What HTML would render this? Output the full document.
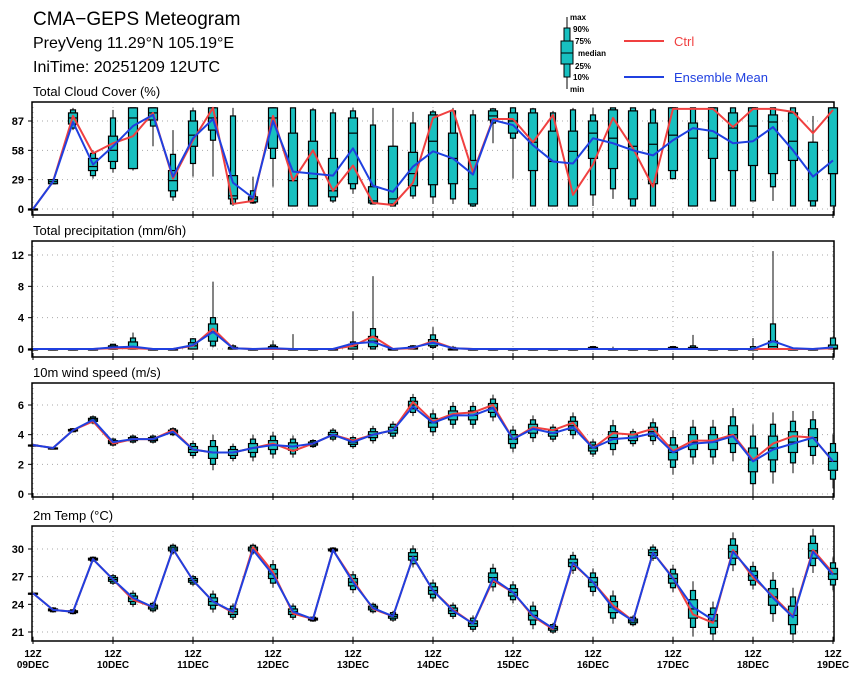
<!DOCTYPE html>
<html><head><meta charset="utf-8">
<style>
html,body{margin:0;padding:0;background:#fff;}
svg{display:block;font-family:"Liberation Sans",sans-serif;}
</style></head>
<body>
<svg id="chart" width="860" height="680" viewBox="0 0 860 680" xmlns="http://www.w3.org/2000/svg">
<text x="33" y="25" font-size="19">CMA−GEPS Meteogram</text>
<text x="33" y="48" font-size="16">PreyVeng 11.29°N 105.19°E</text>
<text x="33" y="72" font-size="16">IniTime: 20251209 12UTC</text>
<g>
<line x1="567" y1="17" x2="567" y2="89" stroke="#000" stroke-width="1"/>
<rect x="564" y="28" width="6" height="49" fill="#18c0c0" stroke="#000"/>
<rect x="561" y="41" width="12" height="23" fill="#18c0c0" stroke="#000"/>
<line x1="561" y1="53" x2="573" y2="53" stroke="#000"/>
<g font-size="8" font-weight="bold">
<text x="570" y="20">max</text>
<text x="573" y="32">90%</text>
<text x="575" y="44">75%</text>
<text x="578" y="56">median</text>
<text x="575" y="69">25%</text>
<text x="573" y="80">10%</text>
<text x="570" y="92">min</text>
</g>
<line x1="624" y1="41" x2="664" y2="41" stroke="#f04040" stroke-width="2"/>
<text x="674" y="46" font-size="13" fill="#f04040">Ctrl</text>
<line x1="624" y1="77" x2="664" y2="77" stroke="#2040e0" stroke-width="2"/>
<text x="674" y="82" font-size="13" fill="#2040e0">Ensemble Mean</text>
</g>
</svg>
<script>
// ---- data ----
const dayLabels = ["09DEC","10DEC","11DEC","12DEC","13DEC","14DEC","15DEC","16DEC","17DEC","18DEC","19DEC"];
const cloudTicks = [0,29,58,87];
const precipTicks = [0,4,8,12];
const windTicks = [0,2,4,6];
const tempTicks = [21,24,27,30];

const cloudMin = [0,25,78,30,36,38,62,8,32,32,3,5,22,3,3,6,15,5,3,10,5,5,2,65,30,3,3,3,3,10,3,3,30,3,8,3,8,8,3,3,3];
const cloudP10 = [0,25,80,33,40,40,82,12,45,68,5,6,50,3,3,8,20,5,3,13,12,10,3,85,70,3,3,3,14,20,3,3,30,3,8,3,8,22,3,3,3];
const cloudP25 = [0,25,84,38,47,40,88,18,62,78,10,7,60,3,3,12,25,6,5,23,24,25,5,88,75,38,3,3,50,40,10,25,38,3,50,38,43,35,48,8,35];
const cloudMed = [0,27,90,42,58,90,95,28,73,90,13,10,90,28,30,18,75,8,10,35,67,50,20,92,87,66,47,57,75,70,62,64,73,70,70,80,82,86,67,8,35];
const cloudP75 = [0,29,95,50,72,100,100,38,87,100,33,12,100,75,67,50,90,22,62,56,93,75,48,97,95,95,77,77,87,98,97,85,100,85,100,95,100,93,95,66,100];
const cloudP90 = [0,29,98,55,90,100,100,54,97,100,92,18,100,100,98,95,97,83,62,85,96,97,93,99,100,99,95,98,93,100,100,98,100,100,100,100,100,100,100,66,100];
const cloudMax = [0,30,100,58,98,100,100,78,100,100,100,32,100,100,100,99,100,100,100,96,98,100,98,100,100,100,97,100,100,100,100,100,100,100,100,100,100,100,100,92,100];
const cloudCtrl = [0,27,92,55,65,72,95,30,68,100,5,8,92,28,58,18,43,6,4,26,90,98,36,89,89,66,93,14,44,90,60,22,99,99,99,81,99,99,96,75,98];
const cloudMean = [0,27,86,44,62,82,93,32,70,89,26,11,87,37,35,33,60,23,17,42,57,50,34,88,83,63,47,45,70,65,58,53,68,80,77,65,67,81,58,32,48];

const precipMin = [0,0,0,0,0,0,0,0,0,0.2,0,0,0,0,0,0,0,0,0,0,0,0,0,0,0,0,0,0,0,0,0,0,0,0,0,0,0,0,0,0,0];
const precipP10 = [0,0,0,0,0,0,0,0,0,0.4,0,0,0,0,0,0,0,0,0,0,0.2,0,0,0,0,0,0,0,0,0,0,0,0,0,0,0,0,0,0,0,0];
const precipP25 = [0,0,0,0,0,0,0,0,0,1.0,0,0,0,0,0,0,0,0.3,0,0,0.4,0,0,0,0,0,0,0,0,0,0,0,0,0,0,0,0,0,0,0,0];
const precipMed = [0,0,0,0,0,0.3,0,0,0.4,2.2,0,0,0,0,0,0,0.3,1.0,0,0.1,0.8,0,0,0,0,0,0,0,0,0,0,0,0,0,0,0,0,0.3,0,0,0.1];
const precipP75 = [0,0,0,0,0.4,0.9,0,0,0.8,3.2,0.2,0,0.3,0,0,0,0.6,1.6,0,0.3,1.2,0,0,0,0,0,0,0,0.2,0,0,0,0.2,0.2,0,0,0,1.0,0,0,0.5];
const precipP90 = [0,0,0,0,0.6,1.4,0,0,1.3,4.0,0.4,0,0.5,0,0,0,0.9,2.6,0,0.4,1.8,0.2,0,0,0,0,0,0,0.3,0,0,0,0.3,0.4,0,0,0.3,3.2,0,0,1.4];
const precipMax = [0,0,0,0,0.6,2.1,0,0,1.4,8.6,0.6,0,1.1,1.9,0,0,4.8,9.3,0,0.5,2.8,0.4,0,0,0,0,0,0,0.4,0.3,0,0,0.4,1.8,0,0,1.4,12.5,0.2,0,1.5];
const precipCtrl = [0,0,0,0,0.1,0.1,0,0,0.4,2.6,0.1,0,0,0,0,0,0.4,1.6,0,0.1,1.0,0.1,0,0,0,0,0,0,0,0,0,0,0,0,0,0,0,0,0,0,0.1];
const precipMean = [0,0,0,0,0.2,0.3,0,0,0.5,2.2,0.1,0,0.1,0,0,0,0.7,0.9,0,0.2,0.8,0.1,0,0,0,0,0,0,0,0,0,0,0,0,0,0,0,1.0,0.1,0,0.2];

const windMed = [3.3,3.1,4.3,5.0,3.5,3.7,3.7,4.2,3.0,2.8,2.8,3.1,3.3,3.2,3.4,4.0,3.5,4.0,4.3,6.0,4.8,5.3,5.3,5.8,3.7,4.4,4.1,4.6,3.1,3.8,3.8,4.2,2.8,3.5,3.5,4.0,2.3,3.1,3.5,3.8,2.2];
const windSpread = [0,0,0.05,0.1,0.1,0.1,0.1,0.1,0.2,0.4,0.2,0.3,0.3,0.25,0.1,0.15,0.15,0.2,0.2,0.25,0.3,0.3,0.3,0.3,0.3,0.3,0.2,0.3,0.2,0.4,0.2,0.3,0.5,0.5,0.5,0.6,0.8,0.8,0.7,0.6,0.6];
const windCtrl = [3.3,3.1,4.3,4.9,3.4,3.7,3.7,4.3,3.0,2.8,2.8,3.1,3.4,2.9,3.4,4.0,3.6,4.0,4.3,6.2,4.9,5.4,5.5,6.0,3.7,4.5,4.3,4.8,3.1,4.1,4.0,4.4,2.9,3.6,3.6,4.0,2.3,3.4,3.9,3.8,2.2];
const windMean = [3.3,3.1,4.3,5.0,3.5,3.7,3.7,4.2,3.0,2.8,2.8,3.1,3.3,3.2,3.4,4.0,3.5,4.0,4.3,5.9,4.8,5.3,5.3,5.8,3.7,4.4,4.1,4.5,3.1,3.7,3.8,4.1,2.8,3.4,3.5,3.9,2.2,3.0,3.4,3.8,2.2];

const tempMed = [25.2,23.4,23.2,28.9,26.7,24.6,23.7,30.0,26.6,24.3,23.2,30.0,27.3,23.2,22.4,29.9,26.4,23.6,22.7,29.2,25.5,23.3,21.9,26.9,25.3,22.8,21.4,28.5,26.4,23.7,22.2,29.6,26.8,23.5,22.2,29.7,27.1,24.8,22.8,29.8,27.3];
const tempSpread = [0,0.1,0.1,0.1,0.2,0.3,0.2,0.2,0.2,0.4,0.3,0.2,0.5,0.3,0.1,0.1,0.4,0.2,0.2,0.4,0.4,0.3,0.3,0.5,0.4,0.5,0.2,0.4,0.5,0.6,0.2,0.3,0.5,1.0,0.7,0.7,0.5,0.9,1.0,0.8,0.6];
const tempCtrl = [25.2,23.4,23.2,28.9,26.7,24.5,23.7,30.0,26.6,24.3,23.1,30.2,27.5,23.0,22.4,29.9,26.6,23.5,22.7,29.1,25.5,23.4,21.9,26.6,25.3,22.7,21.3,28.4,26.4,23.9,22.2,29.6,26.9,22.9,22.0,29.9,26.9,24.9,22.7,29.9,27.4];
const tempMean = [25.2,23.4,23.2,28.9,26.7,24.7,23.7,30.0,26.6,24.3,23.2,29.9,27.2,23.2,22.4,29.9,26.4,23.6,22.7,29.1,25.5,23.3,21.9,26.8,25.3,22.8,21.4,28.5,26.4,23.6,22.2,29.6,26.8,23.7,22.3,29.7,27.2,24.7,22.6,29.7,27.2];

// ---- drawing ----
const NS = "http://www.w3.org/2000/svg";
const svg = document.getElementById("chart");
const X0 = 32, X1 = 834;
function xOf(i){ return 33 + 20 * i; }
function mk(tag, attrs, parent){
  const e = document.createElementNS(NS, tag);
  for (const k in attrs) e.setAttribute(k, attrs[k]);
  (parent || svg).appendChild(e);
  return e;
}
function panel(name, title, top, bottom, vA, yA, vB, yB, ticks){
  const yOf = v => yA + (v - vA) * (yB - yA) / (vB - vA);
  const g = mk("g", {});
  
  
  const t = mk("text", {x: 33, y: top - 6, "font-size": 13}, g);
  t.textContent = title;
  
  
  for (const v of ticks){
    const y = yOf(v);
    const gl = mk("line", {x1: X0, x2: X1, y1: y, y2: y, stroke: "#aaa", "stroke-dasharray": "1,4"}, g);
    
    
    mk("line", {x1: X0 - 4, x2: X0, y1: y, y2: y, stroke: "#000"}, g);
    const tl = mk("text", {x: X0 - 8, y: y + 4, "font-size": 11, "font-weight": "bold", "text-anchor": "end"}, g);
    tl.textContent = v;
    
    
  }
  for (let d = 0; d < dayLabels.length; d++){
    const x = xOf(d * 4);
    const vl = mk("line", {x1: x, x2: x, y1: top, y2: bottom, stroke: "#aaa", "stroke-dasharray": "1,4"}, g);
    
    
    mk("line", {x1: x, x2: x, y1: bottom - 4, y2: bottom + 3, stroke: "#000"}, g);
  }
  const fr = mk("rect", {x: X0, y: top, width: X1 - X0, height: bottom - top, fill: "none", stroke: "#000", "stroke-width": 1.5}, g);
  
  
  return {g, yOf};
}
function boxes(p, name, mn, p10, p25, med, p75, p90, mx){
  for (let i = 0; i < med.length; i++){
    const x = xOf(i);
    const b = mk("g", {}, p.g);
    
    
    mk("line", {x1: x, x2: x, y1: p.yOf(mn[i]), y2: p.yOf(mx[i]), stroke: "#333", "stroke-width": 1.2}, b);
    const a = p.yOf(p90[i]), c = p.yOf(p10[i]);
    mk("rect", {x: x - 2.5, y: a, width: 5, height: Math.max(c - a, 1), fill: "#18c0c0", stroke: "#000", "stroke-width": 1.2}, b);
    const a2 = p.yOf(p75[i]), c2 = p.yOf(p25[i]);
    mk("rect", {x: x - 4.5, y: a2, width: 9, height: Math.max(c2 - a2, 1), fill: "#18c0c0", stroke: "#000", "stroke-width": 1.2}, b);
    const ym = p.yOf(med[i]);
    mk("line", {x1: x - 4.5, x2: x + 4.5, y1: ym, y2: ym, stroke: "#000", "stroke-width": 1.2}, b);
  }
}
function spreadBoxes(p, name, med, s){
  const mn = med.map((m, i) => m - 3 * s[i]), mx = med.map((m, i) => m + 3 * s[i]);
  const q10 = med.map((m, i) => m - 2 * s[i]), q90 = med.map((m, i) => m + 2 * s[i]);
  const q25 = med.map((m, i) => m - s[i]), q75 = med.map((m, i) => m + s[i]);
  boxes(p, name, mn, q10, q25, med, q75, q90, mx);
}
function series(p, name, vals, color){
  const pts = vals.map((v, i) => xOf(i) + "," + p.yOf(v)).join(" ");
  const l = mk("polyline", {points: pts, fill: "none", stroke: color, "stroke-width": 2, "stroke-linejoin": "round"}, p.g);
  
  
}

const pc = panel("cloud", "Total Cloud Cover (%)", 102, 215, 0, 209, 87, 121, cloudTicks);
boxes(pc, "cloud", cloudMin, cloudP10, cloudP25, cloudMed, cloudP75, cloudP90, cloudMax);
series(pc, "cloud-ctrl-line", cloudCtrl, "#f04040");
series(pc, "cloud-mean-line", cloudMean, "#2040e0");

const pp = panel("precip", "Total precipitation (mm/6h)", 241, 357, 0, 349, 12, 255, precipTicks);
boxes(pp, "precip", precipMin, precipP10, precipP25, precipMed, precipP75, precipP90, precipMax);
series(pp, "precip-ctrl-line", precipCtrl, "#f04040");
series(pp, "precip-mean-line", precipMean, "#2040e0");

const pw = panel("wind", "10m wind speed (m/s)", 383, 497, 0, 494, 6, 405, windTicks);
spreadBoxes(pw, "wind", windMed, windSpread);
series(pw, "wind-ctrl-line", windCtrl, "#f04040");
series(pw, "wind-mean-line", windMean, "#2040e0");

const pt = panel("temp", "2m Temp (°C)", 526, 641, 30, 549, 21, 632, tempTicks);
spreadBoxes(pt, "temp", tempMed, tempSpread);
series(pt, "temp-ctrl-line", tempCtrl, "#f04040");
series(pt, "temp-mean-line", tempMean, "#2040e0");

for (let d = 0; d < dayLabels.length; d++){
  const x = xOf(d * 4);
  const a = mk("text", {x: x, y: 657, "font-size": 10, "font-weight": "bold", "text-anchor": "middle"});
  a.textContent = "12Z";
  
  
  const b = mk("text", {x: x, y: 668, "font-size": 10, "font-weight": "bold", "text-anchor": "middle"});
  b.textContent = dayLabels[d];
  
  
}
</script>
</body></html>
